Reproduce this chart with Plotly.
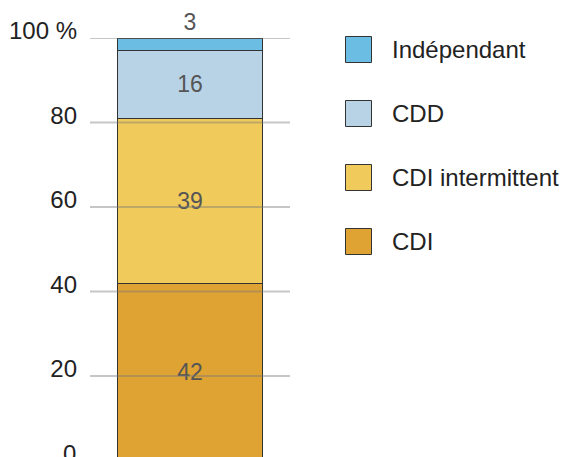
import plotly.graph_objects as go

# ---- data ----
categories = ["Emploi"]
series_names = ["CDI", "CDI intermittent", "CDD", "Indépendant"]
series_values = [42, 39, 16, 3]
series_colors = ["#DEA332", "#F0CA5A", "#B8D3E6", "#6CBDE3"]
tick_values = [0, 20, 40, 60, 80, 100]
tick_labels = ["0", "20", "40", "60", "80", "100 %"]

W, H = 562, 457
ML, MR, MT, MB = 90, 272, 38, 0
PW, PH = W - ML - MR, H - MT - MB
Y_MIN, Y_MAX = 0.85, 100  # the chart is cropped slightly above zero at the bottom
LABEL_SHIFT = 7
FONT = "Liberation Sans, Arial, Helvetica, sans-serif"
TICK_FONT = dict(family=FONT, size=24, color="#222222")

def px_x(px):
    return (px - ML) / PW

def px_y(py):
    return (H - MB - py) / PH

def val_to_paper(v):
    return (v - Y_MIN) / (Y_MAX - Y_MIN)

fig = go.Figure()
n = len(series_names)
for i, (name, val, col) in enumerate(zip(series_names, series_values, series_colors)):
    top = i == n - 1
    fig.add_trace(go.Bar(
        x=categories, y=[val], name=name,
        marker=dict(color=col, line=dict(color="#333333", width=1)),
        text=[str(val)], texttemplate="%{text}",
        textposition="outside" if top else "inside",
        insidetextanchor="middle",
        textfont=dict(family=FONT, size=23, color="#555555"),
        outsidetextfont=dict(family=FONT, size=23, color="#555555"),
        insidetextfont=dict(family=FONT, size=23, color="#555555"),
        constraintext="none",
        cliponaxis=False,
        width=0.725,
        showlegend=False,
    ))

shapes = []
annotations = []
# gridlines drawn above the bar
for tv in tick_values:
    if tv >= Y_MIN:
        shapes.append(dict(type="line", xref="paper", yref="y", x0=0, x1=1, y0=tv, y1=tv,
                           line=dict(color="rgba(120,120,120,0.42)", width=2), layer="above"))

# tick labels falling just below the cropped range (shown cut off at the bottom edge)
for tv, tl in zip(tick_values, tick_labels):
    if tv < Y_MIN:
        annotations.append(dict(xref="paper", yref="paper", x=px_x(78), y=val_to_paper(tv),
                                yshift=LABEL_SHIFT,
                                xanchor="right", yanchor="middle", showarrow=False,
                                text=tl, font=TICK_FONT))

legend_centers = [49.5, 113.5, 177.5, 241.5]
for k, idx in enumerate(reversed(range(n))):
    cy = legend_centers[k]
    shapes.append(dict(type="rect", xref="paper", yref="paper",
                       x0=px_x(345.5), x1=px_x(371.5), y0=px_y(cy + 13), y1=px_y(cy - 13),
                       fillcolor=series_colors[idx], line=dict(color="#333333", width=1)))
    annotations.append(dict(xref="paper", yref="paper", x=px_x(390), y=px_y(cy),
                            xanchor="left", yanchor="middle", showarrow=False,
                            text=series_names[idx],
                            font=dict(family=FONT, size=24, color="#222222")))

fig.update_layout(
    width=W, height=H,
    margin=dict(l=ML, r=MR, t=MT, b=MB, pad=0, autoexpand=False),
    barmode="stack",
    plot_bgcolor="white", paper_bgcolor="white",
    showlegend=False,
    shapes=shapes, annotations=annotations,
    uniformtext=dict(mode=False),
    xaxis=dict(range=[-0.5, 0.5], showticklabels=False, showgrid=False,
               zeroline=False, showline=False, fixedrange=True, automargin=False),
    yaxis=dict(range=[Y_MIN, Y_MAX], tickvals=tick_values, ticktext=tick_labels,
               showgrid=False, zeroline=False, showline=False, automargin=False,
               ticks="", ticklabelstandoff=12, ticklabelshift=-LABEL_SHIFT,
               ticklabeloverflow="allow", tickfont=TICK_FONT),
)

fig.write_html("out.html")
